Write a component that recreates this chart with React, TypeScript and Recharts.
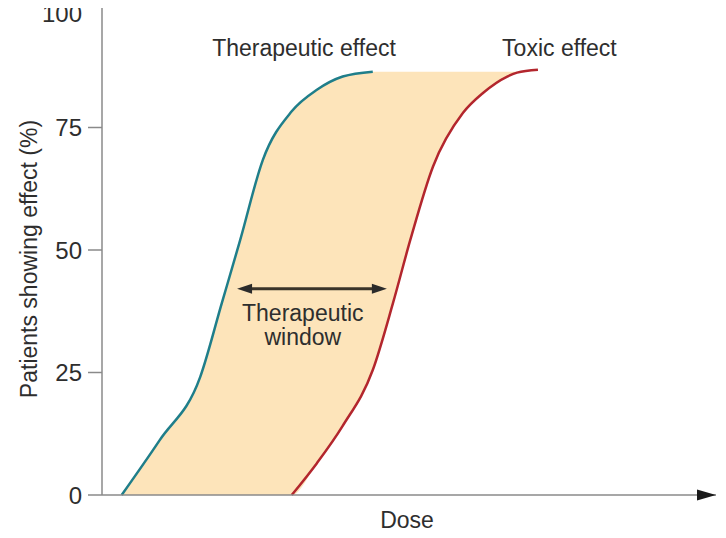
import React from 'react';
import { ComposedChart, Line, Area, XAxis, YAxis, ReferenceLine, ReferenceDot } from 'recharts';

// Dose positions (arbitrary units, 0–100 along the dose axis)
const doses = [3.2, 9.4, 16, 19.5, 22.5, 26.2, 30.9, 35, 39.2, 44.1, 47.4, 50.2, 53.9, 58.8, 62.1, 66, 67.6, 71];
// Patients showing therapeutic effect (%)
const therapeutic: (number | null)[] = [0, 11.2, 24.1, 39.1, 52, 68.4, 78.3, 82.7, 85.4, 86.4, null, null, null, null, null, null, null, null];
// Patients showing toxic effect (%)
const toxic: (number | null)[] = [null, null, null, null, null, null, 0, 6.5, 14.1, 25.5, 39.2, 52, 67, 78, 82.1, 85.4, 86.2, 86.8];
const plateau = 86.4;
const yTicks = [0, 25, 50, 75, 100];
const windowLevel = 42.1;
const windowFrom = 22.0;
const windowTo = 46.4;

const TEAL = '#1f7e8a';
const RED = '#b3262d';
const FILL = '#fde4ba';
const TEXT = '#2e2e2e';
const AXIS = '#8a8a8a';
const FONT = '"Liberation Sans", Arial, sans-serif';

const data = doses.map((d, i) => {
  const lo = toxic[i] ?? 0;
  const hi = therapeutic[i] ?? plateau;
  return {
    dose: d,
    therapeutic: therapeutic[i],
    toxic: toxic[i],
    window: lo <= hi ? [lo, hi] : null,
  };
});

const textStyle = { fontFamily: FONT, fontSize: 23, fill: TEXT };

const makeLabel = (lines: string[]) => (props: any) => {
  const vb = props.viewBox || {};
  const cx = vb.x + (vb.width || 0) / 2;
  const cy = vb.y + (vb.height || 0) / 2;
  const lh = 24;
  const start = cy - ((lines.length - 1) * lh) / 2;
  return (
    <text textAnchor="middle" {...textStyle}>
      {lines.map((l, i) => (
        <tspan key={i} x={cx} y={start + i * lh} dominantBaseline="central">{l}</tspan>
      ))}
    </text>
  );
};

const DoubleArrow = (props: any) => {
  const { x1, y1, x2, y2 } = props;
  const len = 15;
  const hw = 5;
  const c = '#2b2b2b';
  return (
    <g>
      <line x1={x1 + len - 2} y1={y1} x2={x2 - len + 2} y2={y2} stroke="#3a342a" strokeWidth={3} />
      <polygon points={`${x1},${y1} ${x1 + len},${y1 - hw} ${x1 + len},${y1 + hw}`} fill={c} />
      <polygon points={`${x2},${y2} ${x2 - len},${y2 - hw} ${x2 - len},${y2 + hw}`} fill={c} />
    </g>
  );
};

const XLabel = (props: any) => {
  const vb = props.viewBox || { x: 0, y: 0, width: 0, height: 0 };
  const right = vb.x + vb.width;
  const y = vb.y;
  return (
    <g>
      <polygon points={`${right - 19},${y - 5.5} ${right},${y} ${right - 19},${y + 5.5}`} fill="#1a1a1a" />
      <text x={vb.x + vb.width / 2 - 2} y={y + 25} textAnchor="middle" dominantBaseline="central" {...textStyle}>Dose</text>
    </g>
  );
};

const YLabel = (props: any) => {
  const vb = props.viewBox || { x: 0, y: 0, width: 0, height: 0 };
  const cx = 29;
  const cy = vb.y + vb.height / 2 + 9;
  return (
    <text x={cx} y={cy} transform={`rotate(-90, ${cx}, ${cy})`} textAnchor="middle" dominantBaseline="central" {...textStyle}>
      Patients showing effect (%)
    </text>
  );
};

export default function App() {
  return (
    <div style={{ margin: '-8px 0 0 -8px', width: 726, height: 538, background: '#fff' }}>
      <ComposedChart width={726} height={538} data={data} margin={{ top: 5, right: 10, bottom: 0, left: 0 }}>
        <XAxis
          dataKey="dose"
          type="number"
          domain={[0, 100]}
          tick={false}
          tickLine={false}
          axisLine={{ stroke: AXIS, strokeWidth: 1.5 }}
          height={43}
          label={XLabel}
        />
        <YAxis
          type="number"
          domain={[0, 100]}
          ticks={yTicks}
          width={102}
          tickSize={14}
          tickMargin={6}
          axisLine={{ stroke: AXIS, strokeWidth: 1.5 }}
          tickLine={{ stroke: AXIS, strokeWidth: 1.5 }}
          tick={{ fill: TEXT, fontSize: 24, fontFamily: FONT }}
          label={YLabel}
        />
        <Area
          type="monotone"
          dataKey="window"
          fill={FILL}
          fillOpacity={1}
          stroke="none"
          isAnimationActive={false}
          connectNulls={false}
        />
        <Line type="monotone" dataKey="therapeutic" stroke={TEAL} strokeWidth={2.5} dot={false} isAnimationActive={false} />
        <Line type="monotone" dataKey="toxic" stroke={RED} strokeWidth={2.5} dot={false} isAnimationActive={false} />
        <ReferenceLine
          segment={[{ x: windowFrom, y: windowLevel }, { x: windowTo, y: windowLevel }]}
          shape={DoubleArrow}
          ifOverflow="visible"
        />
        <ReferenceDot x={32.9} y={91.3} r={1} fill="none" stroke="none" label={makeLabel(['Therapeutic effect'])} />
        <ReferenceDot x={74.5} y={91.3} r={1} fill="none" stroke="none" label={makeLabel(['Toxic effect'])} />
        <ReferenceDot x={32.7} y={34.75} r={1} fill="none" stroke="none" label={makeLabel(['Therapeutic', 'window'])} />
      </ComposedChart>
    </div>
  );
}
